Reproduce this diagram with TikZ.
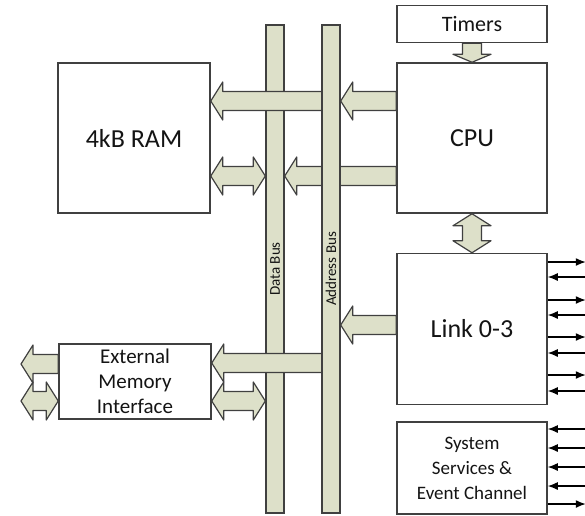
\documentclass[tikz,border=0pt]{standalone}
\usepackage{fontspec}
\setmainfont{Carlito}
\usetikzlibrary{arrows.meta,calc,positioning}

\definecolor{busfill}{RGB}{221,224,201}
\definecolor{boxline}{RGB}{64,64,64}
\definecolor{labeltext}{RGB}{20,20,20}

\def\headlen{12pt}
\def\headw{19pt}
\def\shaftw{9.5pt}

% fat bus arrows: tip, tail, level
\newcommand{\fatleft}[3]{%
  \draw[fat] let \p1=(#1), \p2=(#2), \p3=(0,#3) in
    (\x1,\y3) -- (\x1+\headlen,\y3+\headw) -- (\x1+\headlen,\y3+\shaftw)
    -- (\x2,\y3+\shaftw) -- (\x2,\y3-\shaftw) -- (\x1+\headlen,\y3-\shaftw)
    -- (\x1+\headlen,\y3-\headw) -- cycle;}
\newcommand{\fatboth}[3]{%
  \draw[fat] let \p1=(#1), \p2=(#2), \p3=(0,#3) in
    (\x1,\y3) -- (\x1+\headlen,\y3+\headw) -- (\x1+\headlen,\y3+\shaftw)
    -- (\x2-\headlen,\y3+\shaftw) -- (\x2-\headlen,\y3+\headw) -- (\x2,\y3)
    -- (\x2-\headlen,\y3-\headw) -- (\x2-\headlen,\y3-\shaftw)
    -- (\x1+\headlen,\y3-\shaftw) -- (\x1+\headlen,\y3-\headw) -- cycle;}
% vertical ones: top, bottom
\newcommand{\fatdown}[2]{%
  \draw[fat] let \p1=(#1), \p2=(#2) in
    (\x1,\y2) -- (\x1-\headw,\y2+\headlen) -- (\x1-\shaftw,\y2+\headlen)
    -- (\x1-\shaftw,\y1) -- (\x1+\shaftw,\y1) -- (\x1+\shaftw,\y2+\headlen)
    -- (\x1+\headw,\y2+\headlen) -- cycle;}
\newcommand{\fatupdown}[2]{%
  \draw[fat] let \p1=(#1), \p2=(#2) in
    (\x1,\y1) -- (\x1+\headw,\y1-\headlen) -- (\x1+\shaftw,\y1-\headlen)
    -- (\x1+\shaftw,\y2+\headlen) -- (\x1+\headw,\y2+\headlen) -- (\x1,\y2)
    -- (\x1-\headw,\y2+\headlen) -- (\x1-\shaftw,\y2+\headlen)
    -- (\x1-\shaftw,\y1-\headlen) -- (\x1-\headw,\y1-\headlen) -- cycle;}

\begin{document}
\begin{tikzpicture}[%
            x=1pt, y=-1pt,
            box/.style={draw=boxline, line width=1.5pt, fill=white, inner sep=0pt,
              text=labeltext, align=center},
            big/.style={box, font=\fontsize{26}{30}\selectfont},
            small/.style={box, font=\fontsize{19}{25}\selectfont},
            bus/.style={draw=boxline, line width=1.4pt, fill=busfill, inner sep=0pt,
              minimum width=18pt, minimum height=488pt},
            buslabel/.style={rotate=90, text=labeltext, font=\fontsize{15}{15}\selectfont},
            fat/.style={draw=boxline, line width=1.2pt, fill=busfill, line join=round},
            sig/.style={line width=1.3pt, -{Latex[length=10pt,width=8pt]}}
            ]
            \useasboundingbox (0,0) rectangle (585,515);

            \node[big, minimum width=152pt, minimum height=150pt] (ram) at (134,138) {4kB RAM};
            \node[big, minimum width=150pt, minimum height=150pt] (cpu) at (472,138) {CPU};
            \node[small, font=\fontsize{22}{26}\selectfont, minimum width=150pt,
              minimum height=37pt, above=19pt of cpu] (timers) {Timers};
            \node[big, minimum width=150pt, minimum height=151pt, below=39pt of cpu] (link) {Link 0-3};
            \node[small, minimum width=150pt, minimum height=92pt, below=16pt of link] (sys)
              {System\\Services \&\\Event Channel};
            \node[small, font=\fontsize{21}{25}\selectfont, minimum width=152pt,
              minimum height=75pt] (ext) at (135,381.5) {External\\Memory\\Interface};
            \coordinate (extout) at (21,0);

            % data bus first, the address bus lies over the arrows that cross it
            \node[bus, label={[buslabel]center:Data Bus}] (dbus) at (275,269) {};
            \path node[bus, draw=none, fill=none] (abus) at (331,269) {};
            \fatleft{ram.east}{abus.center}{101}
            \fatleft{ext.east}{abus.center}{363}
            \fatleft{dbus.east}{cpu.west}{176}
            \node[bus, label={[buslabel]center:Address Bus}] (abus) at (331,269) {};

            \fatleft{abus.east}{cpu.west}{101}
            \fatboth{ram.east}{dbus.west}{176}
            \fatleft{abus.east}{link.west}{325}
            \fatboth{ext.east}{dbus.west}{401}
            \fatleft{extout}{ext.west}{364}
            \fatboth{extout}{ext.west}{401}
            {\def\headlen{8pt}\fatdown{timers.south}{cpu.north}}
            \fatupdown{cpu.south}{link.north}

            \foreach \y in {262,300,337,375}
              \draw[sig] (link.east |- 0,\y) -- ++(38,0);
            \foreach \y in {277,315,353,391}
              \draw[sig] (link.east |- 0,\y) ++(38,0) -- ++(-38,0);
            \foreach \y in {429,448,467,486}
              \draw[sig] (sys.east |- 0,\y) ++(38,0) -- ++(-38,0);
            \draw[sig] (sys.east |- 0,504) -- ++(38,0);

        \end{tikzpicture}
\end{document}
